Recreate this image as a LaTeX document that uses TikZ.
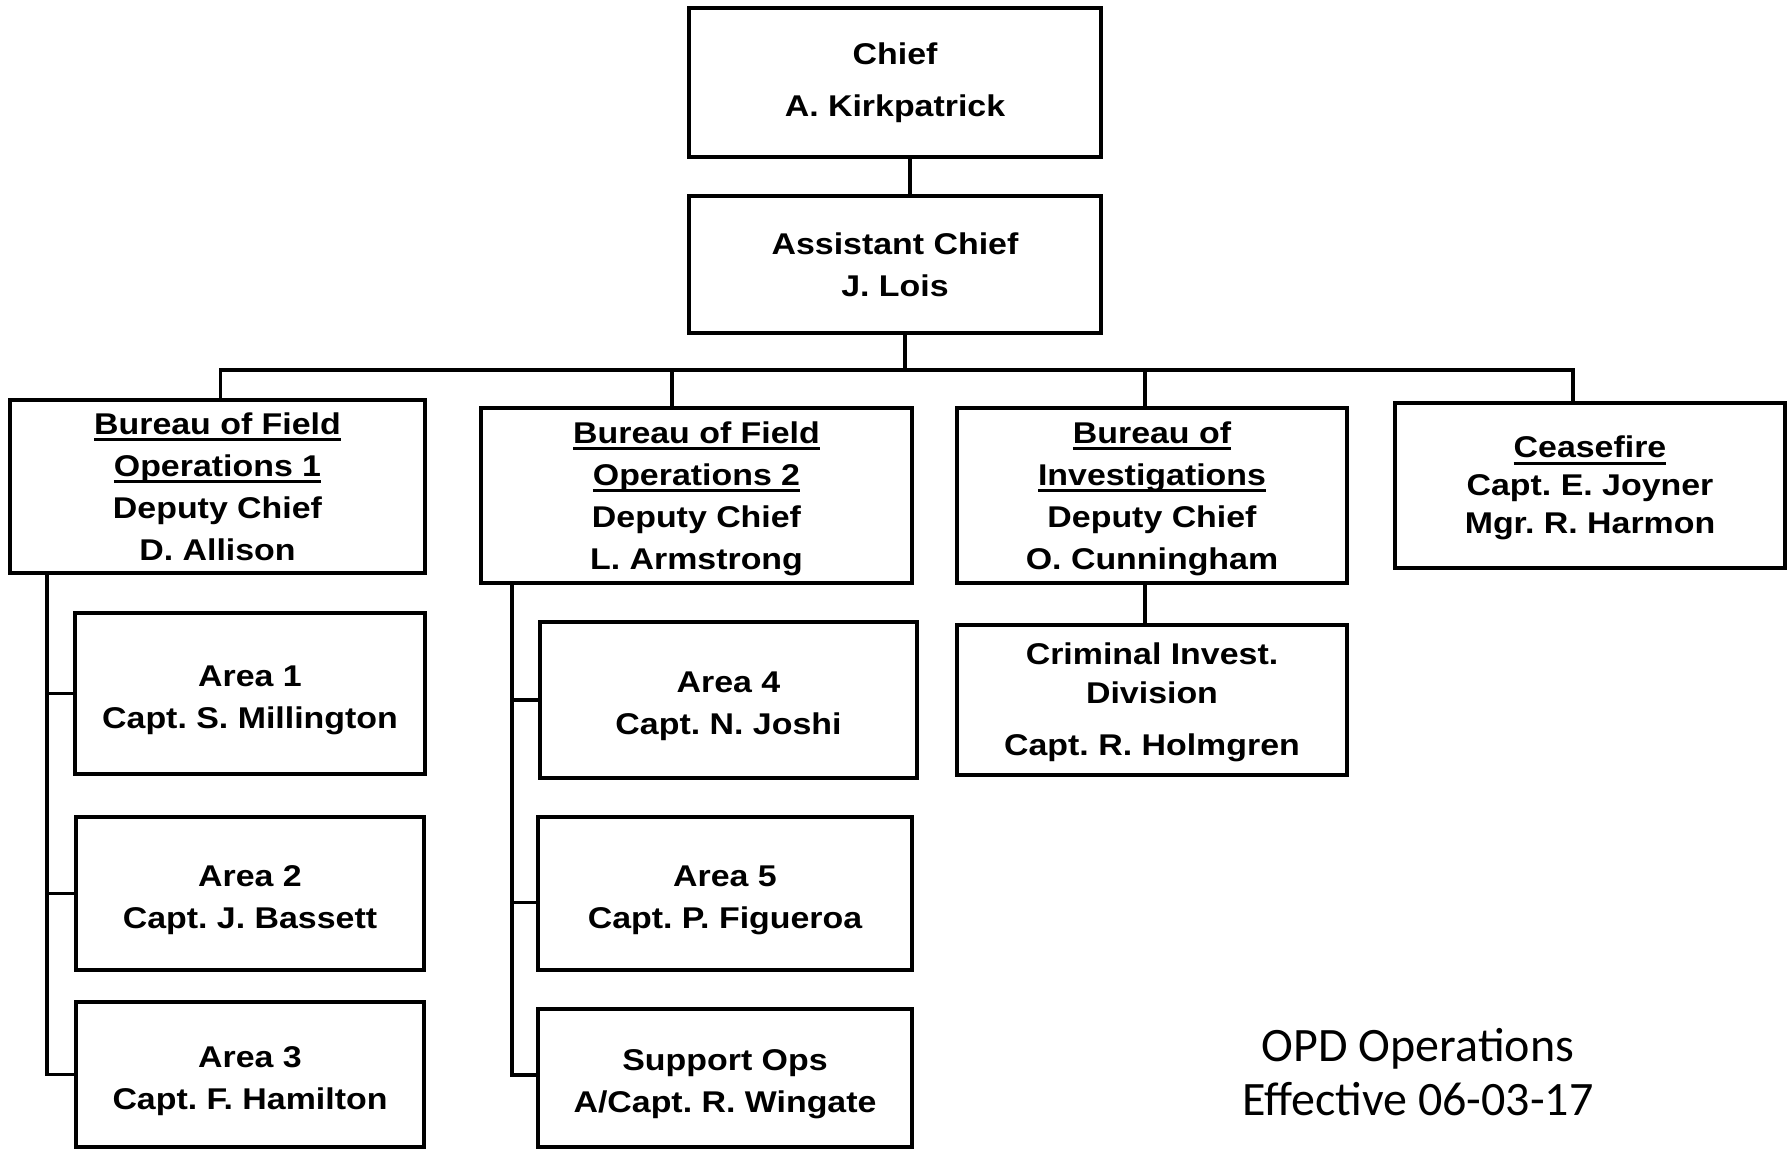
\documentclass[tikz,border=0pt]{standalone}
\usepackage{fontspec}
\setmainfont{Liberation Sans}[FakeStretch=1.13]
\newfontfamily\opdfont{Carlito}
\frenchspacing
\newcommand\ulx[1]{\setbox0\hbox{#1}\leavevmode\rlap{\vrule width\wd0 height-2pt depth3.5pt}\box0}
\newcommand\dn[1]{\rule{0pt}{#1}}
\tikzset{
  box/.style={draw, line width=2pt, rectangle, inner sep=0pt, align=center,
    font=\fontsize{15pt}{21pt}\selectfont\bfseries\frenchspacing},
  conn/.style={draw, line width=1.7pt},
}
\begin{document}
\begin{tikzpicture}[x=0.5pt, y=-0.5pt]
\useasboundingbox (0,0) rectangle (1787,1149);
% top
\node[box, minimum width=206pt, minimum height=74.5pt] (chief) at (895,82.5) {Chief\\[5pt]A. Kirkpatrick};
\node[box, minimum width=206pt, minimum height=68.5pt] (asst) at (895,264.5) {Assistant Chief\\J. Lois};
% bureaus
\node[box, minimum width=207.5pt, minimum height=86.5pt] (bfo1) at (217.5,486.5) {\ulx{Bureau of Field}\\\ulx{Operations 1}\\Deputy Chief\\D. Allison};
\node[box, minimum width=215.5pt, minimum height=87.5pt] (bfo2) at (696.5,495.5) {\dn{14pt}\ulx{Bureau of Field}\\\ulx{Operations 2}\\Deputy Chief\\L. Armstrong};
\node[box, minimum width=195pt, minimum height=87.5pt] (boi) at (1152,495.5) {\dn{14pt}\ulx{Bureau of}\\\ulx{Investigations}\\Deputy Chief\\O. Cunningham};
\node[box, minimum width=195pt, minimum height=82.5pt] (cease) at (1590,485.5) {\dn{13.5pt}\ulx{Ceasefire}\\[-2pt]Capt. E. Joyner\\[-2pt]Mgr. R. Harmon};
% areas
\node[box, minimum width=175pt, minimum height=80.5pt] (a1) at (250,693.5) {\dn{17pt}Area 1\\Capt. S. Millington};
\node[box, minimum width=174pt, minimum height=76.5pt] (a2) at (250,893.5) {\dn{17pt}Area 2\\Capt. J. Bassett};
\node[box, minimum width=174pt, minimum height=72.5pt] (a3) at (250,1074.5) {\dn{17pt}Area 3\\Capt. F. Hamilton};
\node[box, minimum width=188.5pt, minimum height=78pt] (a4) at (728.5,700) {\dn{17pt}Area 4\\Capt. N. Joshi};
\node[box, minimum width=187pt, minimum height=76.5pt] (a5) at (725,893.5) {\dn{17pt}Area 5\\Capt. P. Figueroa};
\node[box, minimum width=187pt, minimum height=69pt] (sup) at (725,1078) {\dn{17pt}Support Ops\\A/Capt. R. Wingate};
\node[box, minimum width=195pt, minimum height=75pt] (cid) at (1152,700) {\dn{13.5pt}Criminal Invest.\\[-1.5pt]Division\\[5pt]Capt. R. Holmgren};
% caption
\node[font=\opdfont\fontsize{24pt}{27pt}\selectfont, align=center, inner sep=0pt] (opd) at (1418,1072) {OPD Operations\\Effective 06-03-17};
% connectors
\coordinate (bus) at (0,370);
\coordinate (dc) at ([xshift=7.5pt]chief.south);
\coordinate (da) at ([xshift=5pt]asst.south);
\coordinate (d1) at ([xshift=1.5pt]bfo1.north);
\coordinate (d2) at ([xshift=-12.25pt]bfo2.north);
\coordinate (d3) at ([xshift=-3.5pt]boi.north);
\coordinate (d4) at ([xshift=-8.5pt]cease.north);
\coordinate (db) at ([xshift=-3.5pt]boi.south);
\draw[conn] (dc) -- (dc |- asst.north);
\draw[conn] (da) -- (da |- bus);
\draw[conn] (d1) -- (d1 |- bus) -- (d4 |- bus) -- (d4);
\draw[conn] (d2 |- bus) -- (d2);
\draw[conn] (d3 |- bus) -- (d3);
\draw[conn] (db) -- (db |- cid.north);
\coordinate (v1) at (47,0);
\coordinate (v2) at (512,0);
\draw[conn] (bfo1.south -| v1) -- (a3.west -| v1) -- (a3.west);
\draw[conn] (a1.west -| v1) -- (a1.west);
\draw[conn] (a2.west -| v1) -- (a2.west);
\coordinate (s5) at ([yshift=-4.5pt]a5.west);
\coordinate (s6) at ([yshift=1.5pt]sup.west);
\draw[conn] (bfo2.south -| v2) -- (s6 -| v2) -- (s6);
\draw[conn] (a4.west -| v2) -- (a4.west);
\draw[conn] (s5 -| v2) -- (s5);
\end{tikzpicture}
\end{document}
